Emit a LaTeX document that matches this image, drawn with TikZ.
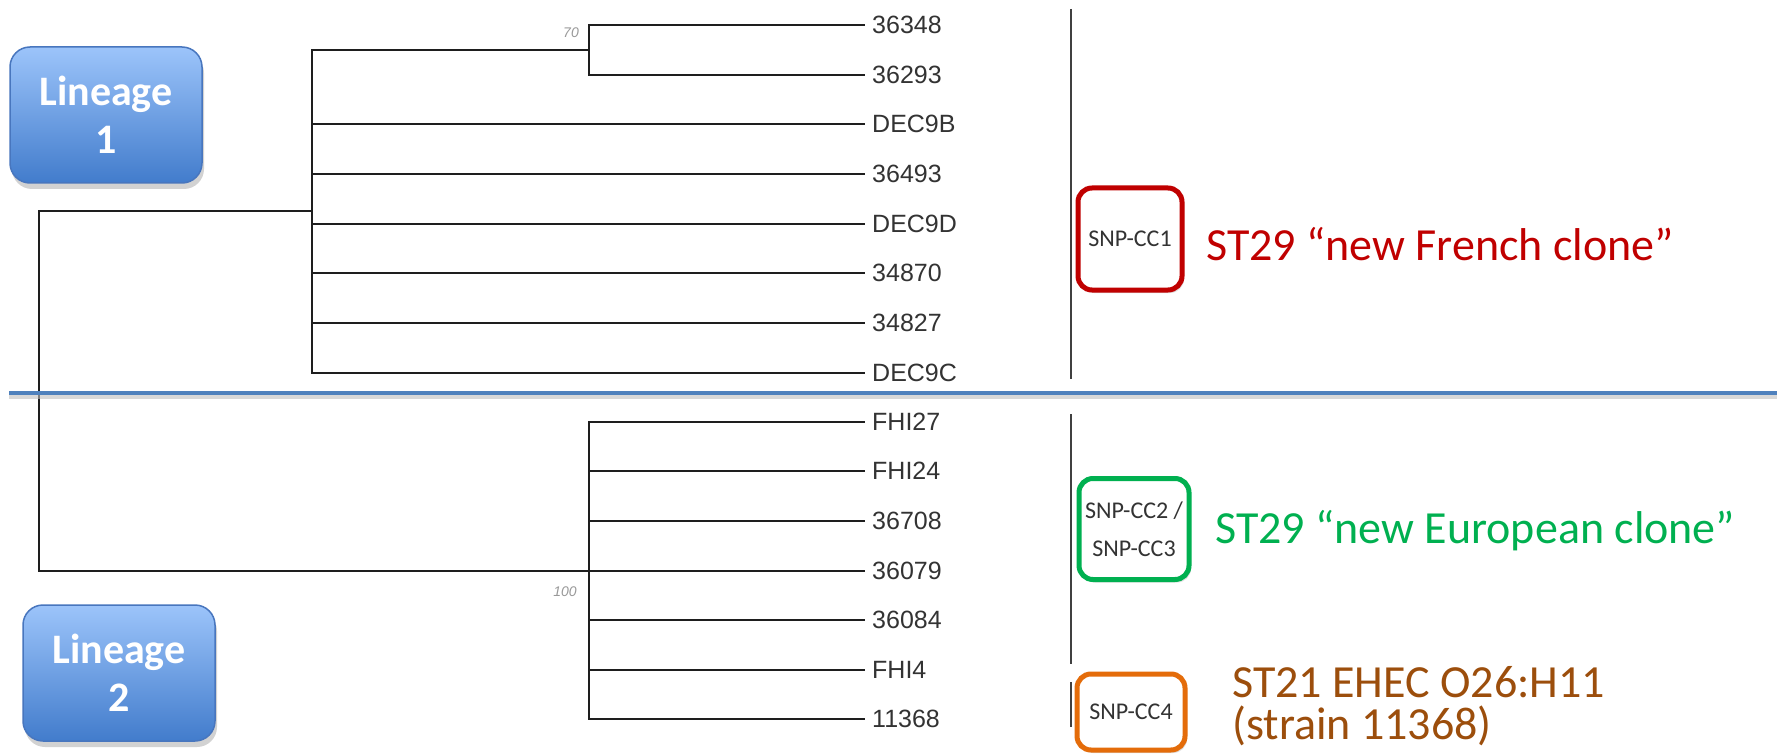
\documentclass[tikz,border=0pt]{standalone}
\usepackage{fontspec}
\setmainfont{Carlito}
\newfontfamily\leaffont{Liberation Sans}
\usetikzlibrary{shadows}
\definecolor{treeline}{RGB}{30,30,30}
\definecolor{redc}{RGB}{192,0,0}
\definecolor{greenc}{RGB}{0,176,80}
\definecolor{orangeb}{RGB}{228,108,10}
\definecolor{oranget}{RGB}{156,78,12}
\definecolor{bluel}{RGB}{79,129,189}
\definecolor{linTop}{RGB}{156,196,250}
\definecolor{linBot}{RGB}{66,124,204}
\definecolor{linBorder}{RGB}{72,118,190}
\begin{document}
\begin{tikzpicture}[x=1pt,y=-1pt,
 tree/.style={draw=treeline,line width=2.5pt},
 leaf/.style={anchor=west,inner xsep=7pt,inner ysep=0pt,font=\leaffont\fontsize{25}{28}\selectfont,text=black!80},
 boot/.style={font=\leaffont\itshape\fontsize{14}{16}\selectfont,text=black!40},
 lineage/.style={rounded corners=20pt,draw=linBorder,line width=1.5pt,top color=linTop,bottom color=linBot,minimum width=192pt,minimum height=136pt,align=center,text=white,font=\bfseries\fontsize{42}{48}\selectfont,drop shadow={opacity=0.35,shadow xshift=2pt,shadow yshift=-6pt}},
 snpbox/.style={rounded corners=14pt,line width=5pt,fill=white,align=center,text=black!80,font=\fontsize{24}{38}\selectfont,inner sep=0pt,drop shadow={opacity=0.25,shadow xshift=2pt,shadow yshift=-3pt}},
 clade/.style={anchor=west,align=left,font=\fontsize{46}{42}\selectfont,inner sep=0pt},
 bracket/.style={draw=black!75,line width=2pt}
]
\fill[white] (0,0) rectangle (1780,754);
\useasboundingbox (0,0) rectangle (1780,754);

% leaves
\node[leaf] (l1) at (865,25) {36348};
\node[leaf] (l2) at (865,75) {36293};
\node[leaf] (l3) at (865,124) {DEC9B};
\node[leaf] (l4) at (865,174) {36493};
\node[leaf] (l5) at (865,224) {DEC9D};
\node[leaf] (l6) at (865,273) {34870};
\node[leaf] (l7) at (865,323) {34827};
\node[leaf] (l8) at (865,373) {DEC9C};
\node[leaf] (m1) at (865,422) {FHI27};
\node[leaf] (m2) at (865,471) {FHI24};
\node[leaf] (m3) at (865,521) {36708};
\node[leaf] (m4) at (865,571) {36079};
\node[leaf] (m5) at (865,620) {36084};
\node[leaf] (m6) at (865,670) {FHI4};
\node[leaf] (m7) at (865,719) {11368};

% junctions
\coordinate (R) at (39,391);
\coordinate (T) at (312,211);
\coordinate (N70) at (589,50);
\coordinate (B) at (589,571);

\draw[tree] (R) |- (T);
\draw[tree] (R) |- (B);
\draw[tree] (T) |- (N70);
\draw[tree] (N70) |- (l1.west);
\draw[tree] (N70) |- (l2.west);
\foreach \n in {l3,l4,l5,l6,l7,l8} \draw[tree] (T) |- (\n.west);
\foreach \n in {m1,m2,m3,m4,m5,m6,m7} \draw[tree] (B) |- (\n.west);

\node[boot] (b70) at (571,33) {70};
\node[boot] (b100) at (565,592) {100};

% brackets
\coordinate (br1a) at (1071,9);
\coordinate (br1b) at (1071,379);
\coordinate (br2a) at (1071,414);
\coordinate (br2b) at (1071,664);
\coordinate (br3a) at (1071,682);
\coordinate (br3b) at (1071,727);
\draw[bracket] (br1a) -- (br1b);
\draw[bracket] (br2a) -- (br2b);
\draw[bracket] (br3a) -- (br3b);

% separator
\coordinate (hl) at (9,393);
\coordinate (hr) at (1777,393);
\draw[black!25,line width=4pt,opacity=.6] ([yshift=-4pt]hl) -- ([yshift=-4pt]hr);
\draw[bluel,line width=4pt] (hl) -- (hr);

% SNP boxes
\node[snpbox,draw=redc,minimum width=104pt,minimum height=102pt] (cc1) at (1130,239) {SNP-CC1};
\node[snpbox,draw=greenc,minimum width=110pt,minimum height=101pt] (cc23) at (1134,529) {SNP-CC2 /\\SNP-CC3};
\node[snpbox,draw=orangeb,minimum width=108pt,minimum height=76pt] (cc4) at (1131,712) {SNP-CC4};

% clade texts
\node[clade,text=redc] (t1) at (1206,244) {ST29 “new French clone”};
\node[clade,text=greenc] (t2) at (1215,531) {ST29 “new European clone”};
\node[clade,text=oranget] (t3) at (1232,706) {ST21 EHEC O26:H11\\(strain 11368)};

% lineage boxes
\node[lineage] (lin1) at (106,115) {Lineage\\1};
\node[lineage] (lin2) at (119,673) {Lineage\\2};
\end{tikzpicture}
\end{document}
